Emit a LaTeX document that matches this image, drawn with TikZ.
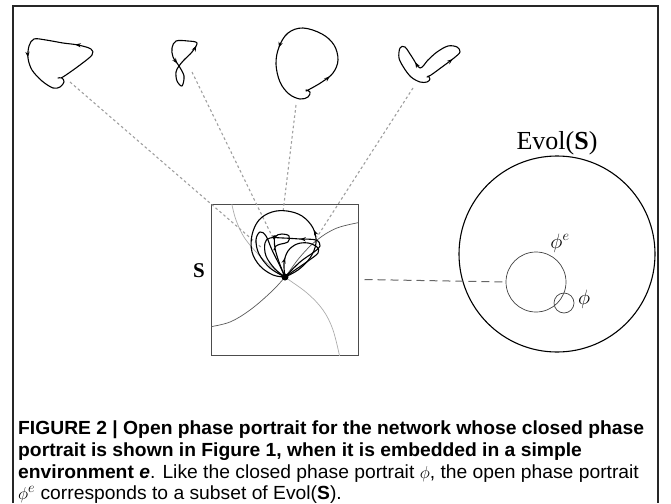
\documentclass[tikz,border=0pt]{standalone}
\usepackage{fontspec}
\setmainfont{Liberation Serif}
\newfontfamily\capfont[FakeStretch=1.015]{Liberation Sans}
\usetikzlibrary{arrows.meta,decorations.markings}

\tikzset{
  traj/.style={line width=1.1pt, black, line join=round, line cap=round},
  arrowat/.style={postaction={decorate,decoration={markings,
      mark=at position #1 with {\arrow{Stealth[length=5.5pt,width=4.2pt]}}}}},
  proj/.style={gray!75, line width=1.1pt, dash pattern=on 2.6pt off 2.6pt},
  embed/.style={gray!80!black, line width=1pt, dash pattern=on 8pt off 5pt},
  sect/.style={line width=0.7pt},
  captext/.style={anchor=base west, inner sep=0pt, font=\capfont\fontsize{19pt}{21pt}\selectfont},
}

\begin{document}
\begin{tikzpicture}[x=1pt,y=-1pt]
\useasboundingbox (0,0) rectangle (671,503);

% outer frame, open at the bottom
\draw[line width=1.1pt, black!85] (13,503) -- (13,6) -- (658,6) -- (658,503);

% ---- four projected trajectories along the top ----
\draw[traj, arrowat=0.33, arrowat=0.66] plot[smooth, tension=0.55] coordinates {
  (61,78) (66,75) (80,65) (92,55) (91,49) (78,45) (63,43) (46,40) (34,39)
  (29,46) (28,58) (32,70) (42,81) (53,88) (60,87) (64,82) (62,78) (58,78)};

\draw[traj, arrowat=0.30, arrowat=0.90] plot[smooth cycle, tension=0.55] coordinates {
  (197,43) (188,41) (176,41) (172,48) (173,57) (179,66) (184,76) (182,86)
  (177,81) (176,72) (179,66) (184,60) (192,52)};

\draw[traj, arrowat=0.13, arrowat=0.62] plot[smooth, tension=0.6] coordinates {
  (306,91) (310,89) (322,82) (333,73) (338,60) (334,45) (322,34) (303,28)
  (288,33) (279,47) (276,64) (280,82) (289,94) (300,99) (308,97) (310,92) (306,90)};

\draw[traj, arrowat=0.17, arrowat=0.55] plot[smooth, tension=0.55] coordinates {
  (427,77) (431,75) (442,67) (454,58) (460,52) (457,47) (448,46) (437,52)
  (428,60) (420,68) (412,57) (405,47) (400,48) (399,58) (404,68) (411,77)
  (420,82) (427,82) (430,79) (428,76)};

% ---- the state space S ----
\node[draw=black!70, line width=1pt, minimum width=147pt, minimum height=151pt,
      inner sep=0pt] (sbox) at (284.5,279.5) {};
\node[font=\bfseries\fontsize{21pt}{21pt}\selectfont] (slabel) at (199,271) {S};

\begin{scope}
\clip (211,204) rectangle (358,355);
% section curves through the fixed point
\draw[sect, gray!65] plot[smooth, tension=0.6] coordinates {
  (231,200) (236,220) (246,240) (266,262) (285,277) (307,293) (323,310) (333,330) (340,358)};
\draw[sect, black!65] plot[smooth, tension=0.6] coordinates {
  (362,222) (337,228) (317,240) (300,257) (285,277) (270,293) (250,310) (230,322) (209,327)};
\end{scope}

% named ends of the projection lines
\coordinate (p1) at (70,82);   \coordinate (q1) at (262,248);
\coordinate (p2) at (192,72);  \coordinate (q2) at (272,236);
\coordinate (p3) at (296,105); \coordinate (q3) at (283,212);
\coordinate (p4) at (413,88);  \coordinate (q4) at (317,237);
\draw[proj] (p1) -- (q1);
\draw[proj] (p2) -- (q2);
\draw[proj] (p3) -- (q3);
\draw[proj] (p4) -- (q4);

% open trajectory of the embedded network
\draw[traj, arrowat=0.30] plot[smooth, tension=0.6] coordinates {
  (285,277) (298,270) (310,258) (316,243) (313,228) (302,216) (287,211) (272,212)
  (259,220) (252,235) (252,252) (260,266) (273,275) (285,277)};
\draw[traj] plot[smooth, tension=0.6] coordinates {
  (285,277) (270,268) (259,254) (256,240) (260,232) (266,236) (272,250) (280,266) (285,277)};
\draw[traj, arrowat=0.47] plot[smooth, tension=0.6] coordinates {
  (285,277) (300,262) (314,252) (320,246) (316,240) (300,239) (283,238) (270,238)
  (265,243) (266,256) (275,269) (285,277)};
\draw[traj, arrowat=0.55] plot[smooth, tension=0.6] coordinates {
  (285,277) (279,262) (275,248) (275,237) (282,234) (289,236) (288,242) (281,244)
  (276,246) (274,250)};
\draw[traj, arrowat=0.18] plot[smooth, tension=0.6] coordinates {
  (285,277) (284,263) (288,251) (297,244) (308,243) (317,247) (318,253) (308,261) (295,270) (285,277)};
\node[circle, fill=black, minimum size=7pt, inner sep=0pt] (fixpt) at (285,277) {};

% ---- Evol(S) ----
\node[circle, draw, line width=1.1pt, minimum size=196pt, inner sep=0pt] (evol) at (557,254) {};
\node[font=\fontsize{26pt}{26pt}\selectfont] (evollabel) at (557,143) {Evol(\textbf{S})};
\node[circle, draw=black!75, line width=0.7pt, minimum size=60pt, inner sep=0pt] (phie) at (536,282) {};
\node[circle, draw=black!75, line width=0.7pt, minimum size=20pt, inner sep=0pt] (phi) at (564,303) {};
\node[font=\fontsize{21pt}{21pt}\selectfont] (phielabel) at (560,243) {$\phi^e$};
\node[font=\fontsize{21pt}{21pt}\selectfont] (philabel) at (584,299) {$\phi$};

\draw[embed] ([xshift=6pt]sbox.east) -- (phie.west);

% ---- caption ----
\node[captext] (cap1) at (18,434) {\bfseries FIGURE 2 | Open phase portrait for the network whose closed phase};
\node[captext] (cap2) at (18,456) {\bfseries portrait is shown in Figure 1, when it is embedded in a simple};
\node[captext] (cap3) at (18,478) {\bfseries environment \textit{e}\mdseries. Like the closed phase portrait $\phi$, the open phase portrait};
\node[captext] (cap4) at (18,499) {$\phi^{e}$ corresponds to a subset of Evol(\textbf{S}).};
\end{tikzpicture}
\end{document}
